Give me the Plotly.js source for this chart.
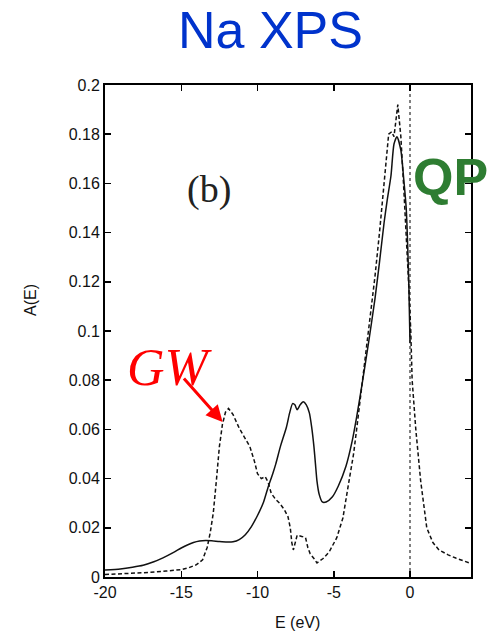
<!DOCTYPE html>
<html>
<head>
<meta charset="utf-8">
<script src="https://cdn.plot.ly/plotly-3.0.1.min.js"></script>
<style>
  html, body { margin: 0; padding: 0; background: #fff; }
  #chart { width: 489px; height: 631px; }
</style>
</head>
<body>
<div id="chart"></div>
<script>
// Spectral function A(E) of sodium: cumulant result (solid) and GW (dashed)
const energyCumulant = [
  -20, -19, -18.2, -17.5, -16.8, -16.2, -15.5, -15.0, -14.6, -14.2, -13.8, -13.4,
  -13.0, -12.5, -12.0, -11.6, -11.2, -10.8, -10.4, -10.0, -9.6, -9.3, -9.0, -8.8,
  -8.5, -8.1, -7.9, -7.7, -7.55, -7.4, -7.2, -7.0, -6.8, -6.6, -6.45, -6.3, -6.2,
  -6.1, -5.95, -5.75, -5.5, -5.1, -4.7, -4.2, -3.8, -3.5, -3.1, -2.7, -2.3, -2.0,
  -1.7, -1.5, -1.25, -1.05, -0.85, -0.6, -0.4, -0.25, -0.07, 0.0
];
const spectrumCumulant = [
  0.0028, 0.0033, 0.0040, 0.0048, 0.0062, 0.0078, 0.0100, 0.0118, 0.0130, 0.0140, 0.0146, 0.0148,
  0.0147, 0.0144, 0.0142, 0.0143, 0.0152, 0.0172, 0.0205, 0.0250, 0.0305, 0.0366, 0.0420, 0.0460,
  0.0530, 0.0610, 0.0665, 0.0705, 0.0700, 0.0680, 0.0700, 0.0712, 0.0700, 0.0667, 0.0610, 0.0530, 0.0460,
  0.0390, 0.0335, 0.0305, 0.0305, 0.0325, 0.0370, 0.0450, 0.0550, 0.0650, 0.0800, 0.0960, 0.1130, 0.1280,
  0.1440, 0.1530, 0.1630, 0.1760, 0.1790, 0.1735, 0.1610, 0.1500, 0.1170, 0.0950
];

const energyGW = [
  -20, -19, -18, -17, -16, -15, -14.5, -14.0, -13.6, -13.3, -13.1, -12.9, -12.7, -12.5,
  -12.3, -12.1, -11.9, -11.6, -11.2, -10.8, -10.5, -10.2, -10.0, -9.75, -9.5, -9.3, -9.1,
  -8.8, -8.55, -8.25, -8.0, -7.85, -7.75, -7.65, -7.5, -7.4, -7.1, -6.85, -6.7, -6.55,
  -6.3, -6.1, -5.7, -5.3, -4.8, -4.4, -4.0, -3.7, -3.5, -3.1, -2.7, -2.3, -2.0, -1.7,
  -1.4, -1.2, -1.05, -0.8, -0.6, -0.4, -0.2, -0.07, 0.05, 0.14, 0.38, 0.7, 1.1, 1.5,
  1.9, 2.5, 3.0, 3.5, 3.85, 4.0
];
const spectrumGW = [
  0.0010, 0.0012, 0.0015, 0.0019, 0.0024, 0.0030, 0.0038, 0.0050, 0.0070, 0.0120, 0.0180, 0.0260, 0.0390, 0.0530,
  0.0620, 0.0670, 0.0685, 0.0660, 0.0605, 0.0565, 0.0530, 0.0470, 0.0420, 0.0400, 0.0408, 0.0385, 0.0340,
  0.0315, 0.0300, 0.0275, 0.0245, 0.0200, 0.0140, 0.0110, 0.0150, 0.0170, 0.0165, 0.0160, 0.0120, 0.0095,
  0.0075, 0.0057, 0.0075, 0.0102, 0.0160, 0.0240, 0.0390, 0.0500, 0.0600, 0.0800, 0.1000, 0.1220, 0.1400, 0.1600,
  0.1800, 0.1810, 0.1790, 0.1920, 0.1790, 0.1570, 0.1350, 0.1170, 0.1000, 0.0800, 0.0600, 0.0390, 0.0200, 0.0140,
  0.0110, 0.0090, 0.0077, 0.0065, 0.0057, 0.0055
];

// Fermi level marker
const fermiEnergy = [0, 0];
const fermiSpan = [0, 0.2];

const xTickVals = [-20, -15, -10, -5, 0];
const xTickText = ['-20', '-15', '-10', '-5', '0'];
const yTickVals = [0, 0.02, 0.04, 0.06, 0.08, 0.1, 0.12, 0.14, 0.16, 0.18, 0.2];
const yTickText = ['0', '0.02', '0.04', '0.06', '0.08', '0.1', '0.12', '0.14', '0.16', '0.18', '0.2'];

const sans = 'Liberation Sans, Arial, Helvetica, sans-serif';
const serif = 'Liberation Serif, Times New Roman, serif';

const traces = [
  {
    x: fermiEnergy, y: fermiSpan, mode: 'lines',
    line: { color: '#000', width: 1, dash: 'dot' },
    hoverinfo: 'skip', showlegend: false
  },
  {
    x: energyGW, y: spectrumGW, mode: 'lines', name: 'GW',
    line: { color: '#111', width: 1.5, dash: '4px,2.5px' },
    showlegend: false
  },
  {
    x: energyCumulant, y: spectrumCumulant, mode: 'lines', name: 'cumulant',
    line: { color: '#111', width: 1.5, shape: 'spline', smoothing: 0.6 },
    showlegend: false
  }
];

const axisCommon = {
  showgrid: false, zeroline: false, showline: true, linecolor: '#000', linewidth: 2,
  mirror: 'ticks', ticks: 'inside', ticklen: 6, tickwidth: 1.5, tickcolor: '#000',
  tickfont: { family: sans, size: 16, color: '#111' }
};

const layout = {
  width: 489, height: 631,
  margin: { l: 105, r: 18, t: 85, b: 54 },
  paper_bgcolor: '#fff', plot_bgcolor: '#fff',
  xaxis: Object.assign({}, axisCommon, {
    range: [-20, 4], tickmode: 'array', tickvals: xTickVals, ticktext: xTickText
  }),
  yaxis: Object.assign({}, axisCommon, {
    range: [0, 0.2], tickmode: 'array', tickvals: yTickVals, ticktext: yTickText
  }),
  annotations: [
    { text: 'Na XPS', xref: 'paper', yref: 'paper', x: 0.451, y: 1.112,
      xanchor: 'center', yanchor: 'middle', showarrow: false,
      font: { family: sans, size: 52, color: '#0033cc' } },
    { text: 'A(E)', xref: 'paper', yref: 'paper', x: 0, y: 0.563, xshift: -75,
      xanchor: 'center', yanchor: 'middle', textangle: -90, showarrow: false,
      font: { family: sans, size: 16, color: '#111' } },
    { text: 'E (eV)', xref: 'paper', yref: 'paper', x: 0.525, y: 0, yshift: -45,
      xanchor: 'center', yanchor: 'middle', showarrow: false,
      font: { family: sans, size: 16, color: '#111' } },
    { text: '(b)', xref: 'paper', yref: 'paper', x: 0.284, y: 0.787,
      xanchor: 'center', yanchor: 'middle', showarrow: false,
      font: { family: serif, size: 38, color: '#222' } },
    { text: '<i>GW</i>', xref: 'paper', yref: 'paper', x: 0.178, y: 0.425,
      xanchor: 'center', yanchor: 'middle', showarrow: false,
      font: { family: serif, size: 52, color: '#ff0000' } },
    { text: '<b>QP</b>', xref: 'paper', yref: 'paper', x: 0.943, y: 0.813,
      xanchor: 'center', yanchor: 'middle', showarrow: false,
      font: { family: sans, size: 52, color: '#2e7d32' } },
    { text: '', xref: 'x', yref: 'y', x: -12.29, y: 0.063, ax: -40, ay: -45,
      showarrow: true, arrowhead: 2, arrowsize: 1.1, arrowwidth: 3, arrowcolor: '#ff0000' }
  ]
};

Plotly.newPlot('chart', traces, layout, { staticPlot: true, displayModeBar: false });
</script>
</body>
</html>
